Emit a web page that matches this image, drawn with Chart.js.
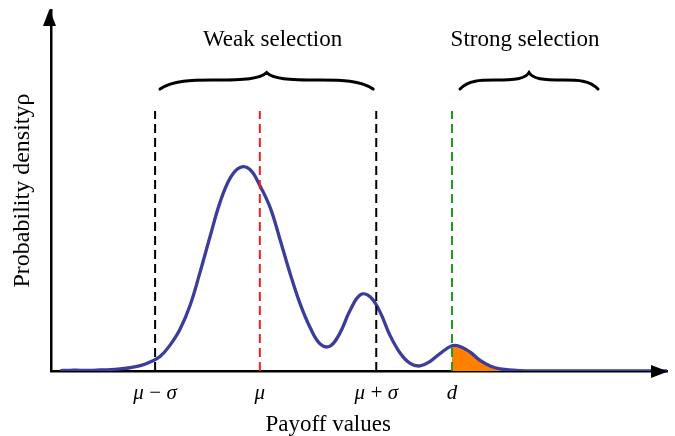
<!DOCTYPE html>
<html>
<head>
<meta charset="utf-8">
<script src="https://cdn.jsdelivr.net/npm/chart.js@4/dist/chart.umd.min.js"></script>
<style>
  body { margin: 0; background: #fff; }
  canvas { display: block; }
</style>
</head>
<body>
<canvas id="myChart" width="675" height="436"></canvas>
<script>
// density curve (x: payoff, y: density)
var curveX = [0.15, 0.31, 0.47, 0.63, 0.80, 0.96, 1.12, 1.28, 1.45, 1.61, 1.77, 1.93, 2.09, 2.26, 2.42, 2.58,
  2.74, 2.91, 3.07, 3.23, 3.39, 3.56, 3.72, 3.88, 4.04, 4.21, 4.37, 4.53, 4.69, 4.85, 5.02, 5.18, 5.34,
  5.50, 5.67, 5.83, 5.99, 6.15, 6.32, 6.51, 6.64, 6.80, 6.96, 7.13, 7.29, 7.61, 8.10, 10];
var curveY = [0.001, 0.002, 0.002, 0.002, 0.003, 0.004, 0.006, 0.009, 0.015, 0.025, 0.040, 0.071, 0.114, 0.183, 0.274, 0.371,
  0.465, 0.535, 0.564, 0.558, 0.514, 0.452, 0.363, 0.271, 0.188, 0.119, 0.075, 0.069, 0.105, 0.166, 0.211, 0.206, 0.164,
  0.100, 0.049, 0.021, 0.014, 0.026, 0.049, 0.070, 0.068, 0.053, 0.030, 0.014, 0.006, 0.001, 0, 0];

// marked payoff values (dashed lines + tick labels)
var markX = [1.69, 3.39, 5.28, 6.51];
var markLabels = ["μ\u2009−\u2009σ", "μ", "μ\u2009+\u2009σ", "d"];
var markColors = ["#000000", "#ee2020", "#000000", "#18a018"];
var markTop = 0.72;
var dValue = 6.51;

// braces
var braceFrom = [1.77, 6.64];
var braceTo = [5.23, 8.88];
var braceLabels = ["Weak selection", "Strong selection"];
var braceY = 0.781;

var xTitle = "Payoff values";
var xTitleAt = 4.5;

var serif = "'Liberation Serif', 'DejaVu Serif', serif";
var curvePts = curveX.map(function (x, i) { return { x: x, y: curveY[i] }; });

var datasets = [];
markX.forEach(function (x, i) {
  datasets.push({
    data: [{ x: x, y: 0 }, { x: x, y: markTop }],
    borderColor: markColors[i],
    borderWidth: 2,
    borderDash: [9, 5],
    pointRadius: 0,
    fill: false
  });
});
datasets.push({
  data: curvePts,
  borderColor: "rgb(60,60,155)",
  borderWidth: 3.3,
  pointRadius: 0,
  tension: 0.4,
  fill: false
});
datasets.push({
  data: curvePts,
  borderWidth: 0,
  borderColor: "rgba(0,0,0,0)",
  backgroundColor: "#ff8000",
  pointRadius: 0,
  tension: 0.4,
  fill: "origin",
  segment: {
    backgroundColor: function (c) {
      return c.p0.parsed.x >= dValue - 1e-6 ? "#ff8000" : "rgba(0,0,0,0)";
    }
  }
});

var decorPlugin = {
  id: "decor",
  afterDraw: function (chart) {
    var ctx = chart.ctx;
    var a = chart.chartArea;
    var sx = chart.scales.x, sy = chart.scales.y;
    ctx.save();
    ctx.fillStyle = "#000";
    // arrow heads
    ctx.beginPath();
    ctx.moveTo(a.right + 1, a.bottom + 0.5);
    ctx.lineTo(a.right - 16, a.bottom - 6);
    ctx.lineTo(a.right - 16, a.bottom + 7);
    ctx.closePath();
    ctx.fill();
    ctx.beginPath();
    ctx.moveTo(a.left - 1.5, a.top - 1);
    ctx.lineTo(a.left - 8, a.top + 16);
    ctx.lineTo(a.left + 5, a.top + 16);
    ctx.closePath();
    ctx.fill();
    // braces
    ctx.strokeStyle = "#000";
    ctx.lineWidth = 3;
    ctx.lineCap = "round";
    ctx.font = "23px " + serif;
    ctx.textAlign = "center";
    ctx.textBaseline = "middle";
    for (var i = 0; i < braceFrom.length; i++) {
      var x0 = sx.getPixelForValue(braceFrom[i]);
      var x1 = sx.getPixelForValue(braceTo[i]);
      var xc = (x0 + x1) / 2;
      var y0 = sy.getPixelForValue(braceY);
      var ym = y0 - 9, yt = y0 - 16.5;
      var h = xc - x0;
      ctx.beginPath();
      ctx.moveTo(x0, y0);
      ctx.bezierCurveTo(x0 + 0.12 * h, ym, x0 + 0.3 * h, ym, x0 + 0.5 * h, ym);
      ctx.bezierCurveTo(xc - 0.2 * h, ym, xc - 0.06 * h, ym - 1, xc, yt);
      ctx.bezierCurveTo(xc + 0.06 * h, ym - 1, xc + 0.2 * h, ym, x1 - 0.5 * h, ym);
      ctx.bezierCurveTo(x1 - 0.3 * h, ym, x1 - 0.12 * h, ym, x1, y0);
      ctx.stroke();
      ctx.fillText(braceLabels[i], xc + (i === 0 ? 6 : -4), y0 - 49);
    }
    // x axis title
    ctx.fillText(xTitle, sx.getPixelForValue(xTitleAt), 425);
    ctx.restore();
  }
};

var myChart = new Chart(document.getElementById("myChart").getContext("2d"), {
  type: "line",
  data: { datasets: datasets },
  options: {
    responsive: false,
    animation: false,
    layout: { padding: { left: 0, right: 8, top: 10, bottom: 0 } },
    plugins: { legend: { display: false }, tooltip: { enabled: false } },
    scales: {
      x: {
        type: "linear",
        min: 0,
        max: 10,
        grid: { display: false, drawTicks: false },
        border: { display: true, color: "#000", width: 2.5 },
        afterFit: function (s) { s.height = 65; },
        afterBuildTicks: function (s) {
          s.ticks = markX.map(function (v) { return { value: v }; });
        },
        ticks: {
          padding: 10,
          color: "#000",
          font: { family: serif, size: 21, style: "italic" },
          callback: function (v, i) { return markLabels[i]; }
        },
        title: { display: false }
      },
      y: {
        type: "linear",
        min: 0,
        max: 1,
        grid: { display: false, drawTicks: false },
        border: { display: true, color: "#000", width: 2.5 },
        ticks: { display: false },
        afterFit: function (s) { s.width = 51; },
        title: {
          display: true,
          text: "Probability densityρ",
          color: "#000",
          font: { family: serif, size: 24 },
          padding: { top: 8, bottom: 0 }
        }
      }
    }
  },
  plugins: [decorPlugin]
});
</script>
</body>
</html>
